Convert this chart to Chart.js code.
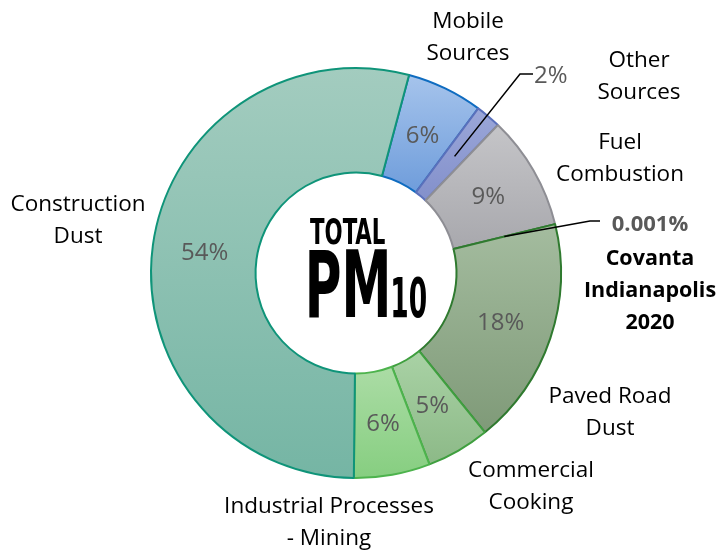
<!DOCTYPE html>
<html>
<head>
<meta charset="utf-8">
<script src="https://cdn.jsdelivr.net/npm/chart.js@4.4.1/dist/chart.umd.min.js"></script>
<style>
html, body { margin: 0; padding: 0; background: #fff; }
#wrap { width: 721px; height: 552px; }
</style>
</head>
<body>
<div id="wrap"><canvas id="monGraphique"></canvas></div>
<script>
// data
const categories = ["Mobile Sources", "Other Sources", "Fuel Combustion", "Covanta Indianapolis 2020",
                    "Paved Road Dust", "Commercial Cooking", "Industrial Processes - Mining", "Construction Dust"]
const shares     = [6, 2, 9, 0.001, 18, 5, 6, 54]
const pctLabels  = ["6%", "2%", "9%", "0.001%", "18%", "5%", "6%", "54%"]
const nameLines  = [["Mobile", "Sources"], ["Other", "Sources"], ["Fuel", "Combustion"],
                    ["Covanta", "Indianapolis", "2020"], ["Paved Road", "Dust"], ["Commercial", "Cooking"],
                    ["Industrial Processes", "- Mining"], ["Construction", "Dust"]]

// styles
const topColors    = ["#a6c4ec", "#9ba7d9", "#c5c5c8", "#a3b99e", "#a4bc9f", "#a9d2a5", "#abdca5", "#a3ccbf"]
const bottomColors = ["#6f9ddb", "#8390cb", "#a8a8ad", "#7f9b79", "#7f9a78", "#8cb987", "#86ce80", "#75b5a4"]
const borderColors = ["#0f6cc0", "#5a70bb", "#8e8e94", "#3d8b3d", "#2f7a2f", "#3f9f3f", "#4db34d", "#0f9479"]
const ROTATION = 15
const CUT = 0.49

const FONT = "'Open Sans', sans-serif"

function sliceGradient(c) {
    let chart = c.chart, a = chart.chartArea, i = c.dataIndex
    if (!a) return topColors[i]
    let total = shares.reduce((s, v) => s + v, 0)
    let before = 0
    for (let k = 0; k < i; k++) before += shares[k]
    let rot = ROTATION * Math.PI / 180 - Math.PI / 2
    let a0 = rot + before / total * 2 * Math.PI
    let a1 = rot + (before + shares[i]) / total * 2 * Math.PI
    let cy = (a.top + a.bottom) / 2
    let R = Math.min(a.width, a.height) / 2, r = R * CUT
    let yMin = Infinity, yMax = -Infinity
    for (let s = 0; s <= 40; s++) {
        let t = a0 + (a1 - a0) * s / 40
        for (let rr of [r, R]) {
            let y = cy + rr * Math.sin(t)
            yMin = Math.min(yMin, y)
            yMax = Math.max(yMax, y)
        }
    }
    if (yMax - yMin < 1) return topColors[i]
    let g = chart.ctx.createLinearGradient(0, yMin, 0, yMax)
    g.addColorStop(0, topColors[i])
    g.addColorStop(1, bottomColors[i])
    return g
}

// label offsets from the doughnut centre: [x, first baseline]
const nameSpots = [[112, -245], [283, -206], [264, -124], [294, -8], [254, 130], [175, 204], [-27, 240], [-278, -62]]
const LINE_H = 32

function fitText(ctx, text, left, baseline, width, capH, family) {
    ctx.textAlign = "left"
    ctx.textBaseline = "alphabetic"
    ctx.font = "bold 100px " + family
    let asc = ctx.measureText(text).actualBoundingBoxAscent
    let size = 100 * capH / asc
    ctx.font = "bold " + size + "px " + family
    let m = ctx.measureText(text)
    let w = m.actualBoundingBoxLeft + m.actualBoundingBoxRight
    ctx.save()
    ctx.translate(left, baseline)
    ctx.scale(width / w, 1)
    ctx.fillText(text, m.actualBoundingBoxLeft, 0)
    ctx.restore()
}

const labelPlugin = {
    id: "pmLabels",
    afterDatasetsDraw(chart) {
        let ctx = chart.ctx
        let arcs = chart.getDatasetMeta(0).data
        let cx = arcs[0].x, cy = arcs[0].y
        ctx.save()

        // percentages inside the ring
        ctx.fillStyle = "#595959"
        ctx.font = "24px " + FONT
        ctx.textAlign = "center"
        ctx.textBaseline = "middle"
        arcs.forEach((arc, i) => {
            if (i === 1 || i === 3) return
            let p = arc.tooltipPosition()
            ctx.fillText(pctLabels[i], p.x, p.y + 1)
        })

        // leader lines for the thin slices
        ctx.strokeStyle = "#000"
        ctx.lineWidth = 1.5
        let p1 = arcs[1].tooltipPosition()
        ctx.beginPath()
        ctx.moveTo(p1.x, p1.y)
        ctx.lineTo(cx + 164, cy - 199)
        ctx.lineTo(cx + 177, cy - 199)
        ctx.stroke()
        ctx.textAlign = "left"
        ctx.textBaseline = "alphabetic"
        ctx.fillText(pctLabels[1], cx + 178, cy - 190)

        let p3 = arcs[3].tooltipPosition()
        ctx.beginPath()
        ctx.moveTo(p3.x, p3.y)
        ctx.lineTo(cx + 234, cy - 52)
        ctx.lineTo(cx + 244, cy - 52)
        ctx.stroke()
        ctx.textAlign = "center"
        ctx.font = "bold 22px " + FONT
        ctx.fillText(pctLabels[3], cx + 294, cy - 42)

        // category names
        ctx.fillStyle = "#000"
        nameLines.forEach((lines, i) => {
            ctx.font = (i === 3 ? "bold 21.5px " : "22.5px ") + FONT
            let s = nameSpots[i]
            lines.forEach((t, k) => ctx.fillText(t, cx + s[0], cy + s[1] + k * LINE_H))
        })

        // centre title
        let fam = "'Liberation Sans Narrow', 'DejaVu Sans Condensed', sans-serif"
        fitText(ctx, "TOTAL", cx - 46, cy - 29, 75, 27, fam)
        fitText(ctx, "PM", cx - 47, cy + 44, 78, 67, fam)
        fitText(ctx, "10", cx + 37, cy + 44, 33, 41, fam)
        ctx.restore()
    }
}

new Chart(document.getElementById("monGraphique"), {
    type: "doughnut",
    data: {
        labels: categories,
        datasets: [{
            data: shares,
            backgroundColor: sliceGradient,
            borderColor: borderColors,
            borderWidth: 2
        }]
    },
    options: {
        responsive: true,
        maintainAspectRatio: false,
        animation: false,
        rotation: ROTATION,
        cutout: (CUT * 100) + "%",
        layout: { padding: { left: 150, right: 159, top: 67, bottom: 73 } },
        plugins: {
            legend: { display: false },
            tooltip: { enabled: false }
        }
    },
    plugins: [labelPlugin]
})
</script>
</body>
</html>
